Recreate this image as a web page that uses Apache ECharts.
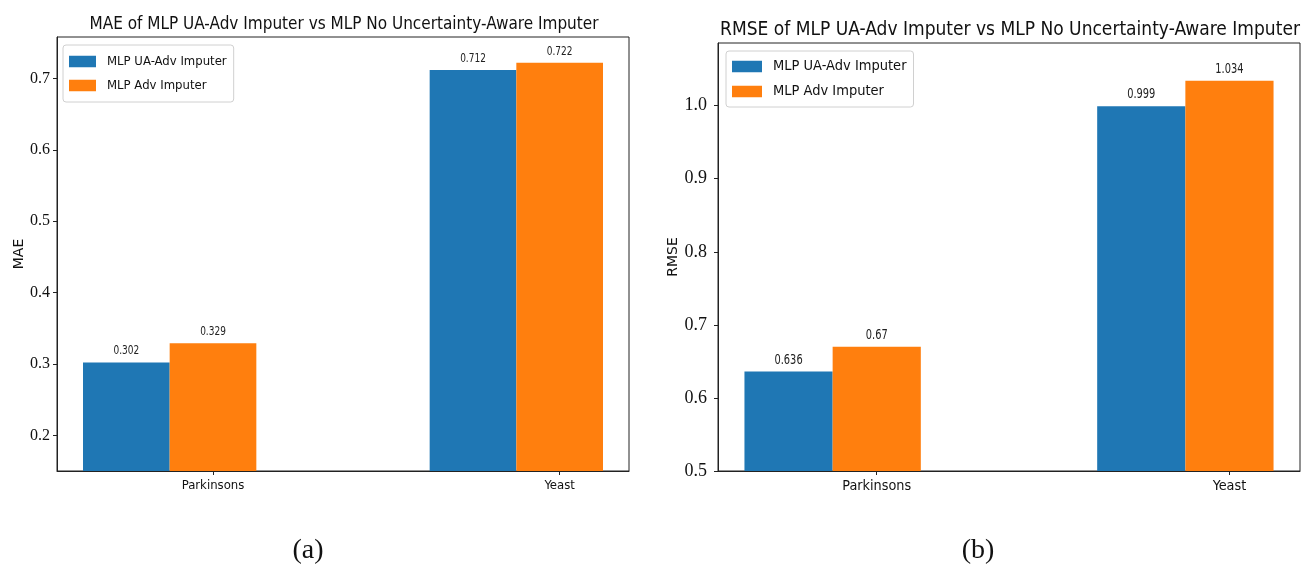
<!DOCTYPE html>
<html>
<head>
<meta charset="utf-8">
<script src="https://cdn.jsdelivr.net/npm/echarts@6/dist/echarts.min.js"></script>
<style>
  html, body { margin: 0; padding: 0; background: #fff; }
  #chart { width: 1313px; height: 570px; }
</style>
</head>
<body>
<div id="chart"></div>
<script>
// Datasets and methods
const categories = ['Parkinsons', 'Yeast'];
const seriesNames = ['MLP UA-Adv Imputer', 'MLP Adv Imputer'];

// MAE per dataset
const maeUA = [0.302, 0.712];
const maeAdv = [0.329, 0.722];

// RMSE per dataset
const rmseUA = [0.636, 0.999];
const rmseAdv = [0.67, 1.034];

// Y tick labels
const maeTicks = [0.2, 0.3, 0.4, 0.5, 0.6, 0.7];
const rmseTicks = [0.5, 0.6, 0.7, 0.8, 0.9, 1.0];

// Panel captions and titles
const titles = [
  'MAE of MLP UA-Adv Imputer vs MLP No Uncertainty-Aware Imputer',
  'RMSE of MLP UA-Adv Imputer vs MLP No Uncertainty-Aware Imputer'
];
const yNames = ['MAE', 'RMSE'];
const captions = ['(a)', '(b)'];

const BLUE = '#1f77b4';
const ORANGE = '#ff7f0e';
const BAR_W = 0.25;
const NARROW = "Liberation Sans Narrow, DejaVu Sans Condensed, sans-serif";
const SERIF = "Liberation Serif, DejaVu Serif, serif";

// Bars sit at index (first method) and index + BAR_W (second method);
// category ticks are placed at index + BAR_W.
const tickPos = categories.map((c, i) => i + BAR_W);

function barData(values, offset) {
  return values.map((v, i) => [i + offset, v]);
}

// Rectangle from the value down to zero (clipped by the grid) plus a
// horizontally condensed value label above it.
function makeRender(fontSize) {
  return function (params, api) {
    const x = api.value(0);
    const y = api.value(1);
    const tl = api.coord([x - BAR_W / 2, y]);
    const br = api.coord([x + BAR_W / 2, 0]);
    const cx = (tl[0] + br[0]) / 2;
    const cy = tl[1] - 11.5;
    return {
      type: 'group',
      children: [
        {
          type: 'rect',
          shape: { x: tl[0], y: tl[1], width: br[0] - tl[0], height: br[1] - tl[1] },
          style: { fill: api.visual('color') }
        },
        {
          type: 'text',
          silent: true,
          x: cx,
          y: cy,
          scaleX: 0.8,
          style: {
            text: String(y),
            x: 0,
            y: 0,
            align: 'center',
            verticalAlign: 'middle',
            fill: '#222',
            fontFamily: NARROW,
            fontSize: fontSize
          }
        }
      ]
    };
  };
}

const panels = [
  {
    grid: { left: 57, top: 37, width: 572, height: 434 },
    yMin: 0.15, yMax: 0.7581, ticks: maeTicks, a: maeUA, b: maeAdv,
    nameGap: 28, yMargin: 7, legend: { left: 63, top: 45 }, titleTop: 11,
    fs: { title: 17, legend: 13, x: 13, y: 16, value: 12.5 },
    sw: { w: 27, h: 11.5, gap: 11, pad: [10, 7, 10, 6] },
    captionX: 308
  },
  {
    grid: { left: 718, top: 43, width: 582, height: 428 },
    yMin: 0.5, yMax: 1.0857, ticks: rmseTicks, a: rmseUA, b: rmseAdv,
    nameGap: 35, yMargin: 11, legend: { left: 726, top: 51 }, titleTop: 16,
    fs: { title: 19, legend: 14.5, x: 14.3, y: 18, value: 13.7 },
    sw: { w: 30, h: 11.5, gap: 10, pad: [8, 7, 8, 6] },
    captionX: 978
  }
];

const option = {
  animation: false,
  backgroundColor: '#fff',
  title: panels.map((p, k) => ({
    text: titles[k],
    left: p.grid.left + p.grid.width / 2 - 4,
    top: p.titleTop,
    textAlign: 'center',
    textStyle: { fontFamily: NARROW, fontWeight: 'normal', fontSize: p.fs.title, color: '#111' }
  })),
  legend: panels.map((p, k) => ({
    orient: 'vertical',
    left: p.legend.left,
    top: p.legend.top,
    data: seriesNames.map(n => ({ name: n, icon: 'rect' })),
    itemWidth: p.sw.w,
    itemHeight: p.sw.h,
    itemGap: p.sw.gap,
    padding: p.sw.pad,
    backgroundColor: '#fff',
    borderColor: '#d0d0d0',
    borderWidth: 1,
    borderRadius: 3,
    selectedMode: false,
    itemStyle: { borderWidth: 0 },
    textStyle: {
      fontFamily: NARROW, fontSize: p.fs.legend, color: '#111',
      padding: [0, 0, 0, 6]
    }
  })),
  grid: panels.map(p => Object.assign({
    show: true, borderColor: '#222', borderWidth: 1, backgroundColor: 'transparent'
  }, p.grid)),
  xAxis: panels.map((p, k) => ({
    type: 'value',
    gridIndex: k,
    min: -0.2,
    max: 1.45,
    splitLine: { show: false },
    axisLine: { show: true, onZero: false, lineStyle: { color: '#222', width: 1 } },
    axisTick: { show: true, customValues: tickPos, length: 4, lineStyle: { color: '#222' } },
    axisLabel: {
      customValues: tickPos,
      margin: 8,
      formatter: v => categories[Math.round(v - BAR_W)],
      fontFamily: NARROW, fontSize: p.fs.x, color: '#111'
    }
  })),
  yAxis: panels.map((p, k) => ({
    type: 'value',
    gridIndex: k,
    min: p.yMin,
    max: p.yMax,
    name: yNames[k],
    nameLocation: 'middle',
    nameRotate: 90,
    nameGap: p.nameGap,
    nameTextStyle: { fontFamily: 'DejaVu Sans, sans-serif', fontSize: 14, color: '#111' },
    splitLine: { show: false },
    axisLine: { show: true, onZero: false, lineStyle: { color: '#222', width: 1 } },
    axisTick: { show: true, customValues: p.ticks, length: 4, lineStyle: { color: '#222' } },
    axisLabel: {
      customValues: p.ticks,
      margin: p.yMargin,
      formatter: v => v.toFixed(1),
      fontStyle: 'normal',
      fontWeight: 'normal',
      fontFamily: SERIF, fontSize: p.fs.y, color: '#111'
    }
  })),
  series: panels.flatMap((p, k) => [
    {
      type: 'custom', name: seriesNames[0], xAxisIndex: k, yAxisIndex: k,
      clip: true, itemStyle: { color: BLUE },
      renderItem: makeRender(p.fs.value),
      encode: { x: 0, y: 1 },
      data: barData(p.a, 0)
    },
    {
      type: 'custom', name: seriesNames[1], xAxisIndex: k, yAxisIndex: k,
      clip: true, itemStyle: { color: ORANGE },
      renderItem: makeRender(p.fs.value),
      encode: { x: 0, y: 1 },
      data: barData(p.b, BAR_W)
    }
  ]),
  graphic: panels.map((p, k) => ({
    type: 'text',
    x: p.captionX,
    y: 551,
    style: {
      text: captions[k],
      align: 'center',
      verticalAlign: 'middle',
      fontFamily: SERIF,
      fontSize: 28,
      fill: '#111'
    }
  }))
};

const chart = echarts.init(document.getElementById('chart'), null, { renderer: 'canvas' });
chart.setOption(option);
</script>
</body>
</html>
